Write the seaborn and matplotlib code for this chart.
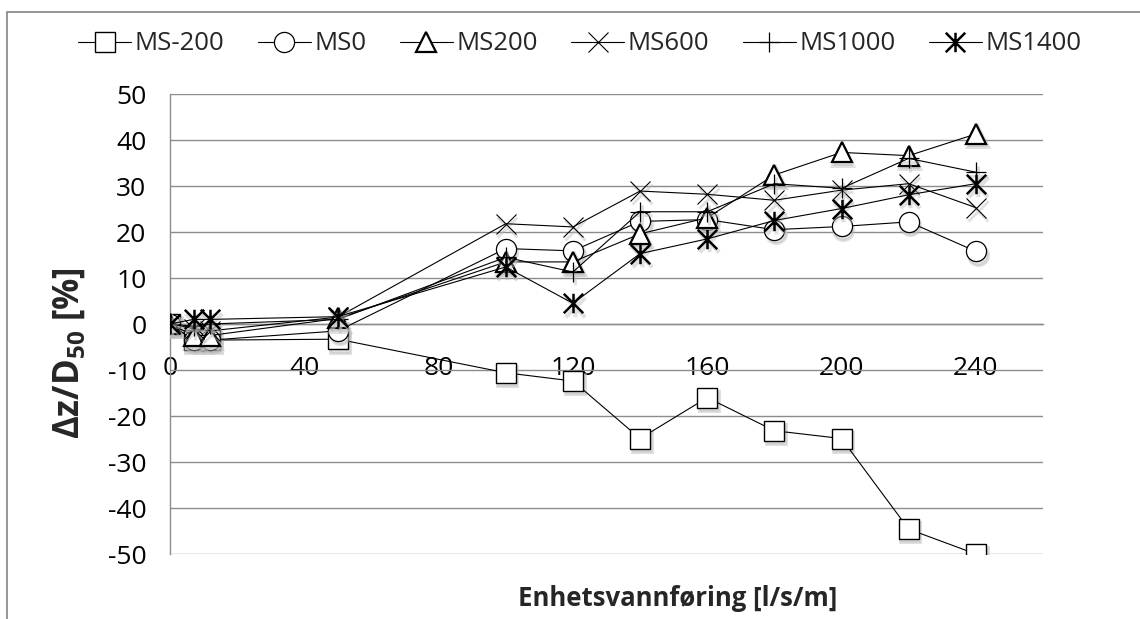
import matplotlib
matplotlib.use("Agg")
import matplotlib.pyplot as plt
import matplotlib.transforms as mtransforms
from matplotlib.path import Path
from matplotlib.patches import Rectangle
import pandas as pd
import seaborn as sns

# Unit discharge [l/s/m]
flow = [0, 7, 12, 50, 100, 120, 140, 160, 180, 200, 220, 240]

# Relative bed level change dz/D50 [%] per test series
ms_m200 = [0, -3.5, -3.5, -3.3, -10.6, -12.4, -24.9, -16.0, -23.2, -24.9, -44.6, -50.0]
ms_0 = [0, -3.5, -3.5, -1.5, 16.4, 15.9, 22.3, 22.7, 20.5, 21.2, 22.2, 15.8]
ms_200 = [0, -2.5, -2.5, 1.2, 13.5, 13.5, 19.6, 23.1, 32.4, 37.3, 36.6, 41.3]
ms_600 = [0, -1.0, -1.5, 1.5, 21.8, 21.1, 28.9, 28.2, 26.9, 29.1, 30.5, 25.3]
ms_1000 = [0, -0.5, 0.0, 1.0, 14.5, 11.3, 24.4, 24.4, 30.5, 29.5, 36.0, 33.0]
ms_1400 = [0, 1.0, 1.0, 1.6, 12.4, 4.5, 15.3, 18.5, 22.5, 25.1, 28.1, 30.5]

series_names = ["MS-200", "MS0", "MS200", "MS600", "MS1000", "MS1400"]
series_values = [ms_m200, ms_0, ms_200, ms_600, ms_1000, ms_1400]

x_ticks = [0, 40, 80, 120, 160, 200, 240]
y_ticks = [-50, -40, -30, -20, -10, 0, 10, 20, 30, 40, 50]

df = pd.DataFrame({
    "flow": flow * len(series_names),
    "value": [v for vals in series_values for v in vals],
    "series": [n for n in series_names for _ in flow],
})

sns.set_theme(style="white")
plt.rcParams["font.family"] = ["Open Sans", "DejaVu Sans"]
plt.rcParams["mathtext.fontset"] = "custom"
plt.rcParams["mathtext.rm"] = "Open Sans:bold"
plt.rcParams["mathtext.bf"] = "Open Sans:bold"
plt.rcParams["axes.unicode_minus"] = False

GRID = "#8c8c8c"
W, H = 1140, 619

fig = plt.figure(figsize=(W / 100, H / 100), dpi=100)
fig.patch.set_facecolor("white")

# chart-area frame (open towards right and bottom)
fig.patches.append(Rectangle((7 / W, -0.5), 2.0, 1.5 - 12 / H,
                             transform=fig.transFigure, fill=False,
                             edgecolor=GRID, lw=1.3))

ax = fig.add_axes([170 / W, 1 - 554 / H, (1043 - 170) / W, (554 - 94) / H])
ax.set_facecolor("white")

# six-armed star: cross plus vertical bar
star = Path([(-0.5, -0.5), (0.5, 0.5), (-0.5, 0.5), (0.5, -0.5), (0, -0.5), (0, 0.5)],
            [Path.MOVETO, Path.LINETO] * 3)

marker_styles = {
    "MS-200": dict(marker="s", markersize=14, markeredgewidth=1.0, markerfacecolor="white"),
    "MS0": dict(marker="o", markersize=14.5, markeredgewidth=0.9, markerfacecolor="white"),
    "MS200": dict(marker="^", markersize=14, markeredgewidth=1.6, markerfacecolor="white"),
    "MS600": dict(marker="x", markersize=14, markeredgewidth=0.8),
    "MS1000": dict(marker="+", markersize=15, markeredgewidth=0.9),
    "MS1400": dict(marker=star, markersize=14, markeredgewidth=1.8, markerfacecolor="none"),
}

shadow_tr = ax.transData + mtransforms.ScaledTranslation(1.2 / 72, -2.4 / 72, fig.dpi_scale_trans)

for i, name in enumerate(series_names):
    sub = df[df["series"] == name]
    st = marker_styles[name]
    # soft marker shadow
    ax.plot(sub["flow"], sub["value"], linestyle="none", marker=st["marker"],
            markersize=st["markersize"], markeredgewidth=st["markeredgewidth"] + 1.2,
            markerfacecolor="#bbbbbb" if st.get("markerfacecolor") == "white" else "none",
            markeredgecolor="#bbbbbb", alpha=0.45, transform=shadow_tr, zorder=2.5 + i * 0.1)
    sns.lineplot(data=sub, x="flow", y="value", ax=ax, color="black", linewidth=0.8,
                 markeredgecolor="black", label=name, estimator=None, sort=False,
                 zorder=2.55 + i * 0.1, **st)

handles, labels = ax.get_legend_handles_labels()
if ax.get_legend() is not None:
    ax.get_legend().remove()

ax.set_xlim(0, 260)
ax.set_ylim(-50, 50)
ax.set_xticks(x_ticks)
ax.set_yticks(y_ticks)
ax.set_xlabel("")
ax.set_ylabel("")

ax.yaxis.grid(True, color=GRID, linewidth=1.0)
ax.xaxis.grid(False)
ax.set_axisbelow(True)

for side in ("top", "right"):
    ax.spines[side].set_visible(False)
ax.spines["bottom"].set_position(("data", 0))
for side in ("left", "bottom"):
    ax.spines[side].set_color(GRID)
    ax.spines[side].set_linewidth(1.0)
    ax.spines[side].set_zorder(1)

ax.tick_params(axis="both", direction="inout", length=12, width=1.0, color=GRID,
               labelsize=19, labelcolor="black")
ax.tick_params(axis="x", pad=17)
ax.tick_params(axis="y", pad=11)

fig.text(678 / W, 1 - 598 / H, "Enhetsvannføring [l/s/m]", ha="center", va="center",
         fontsize=18.5, fontweight="bold")
fig.text(70 / W, 1 - 353 / H, r"Δz/D$_{50}$ [%]", ha="center", va="center",
         rotation=90, fontsize=25, fontweight="bold")

fig.legend(handles, labels, loc="center", bbox_to_anchor=(580 / W, 1 - 44 / H),
           ncol=6, frameon=False, fontsize=18.5, handlelength=2.05,
           handletextpad=0.15, columnspacing=1.3, borderpad=0)

fig.savefig("out.png", dpi=100, facecolor="white")
